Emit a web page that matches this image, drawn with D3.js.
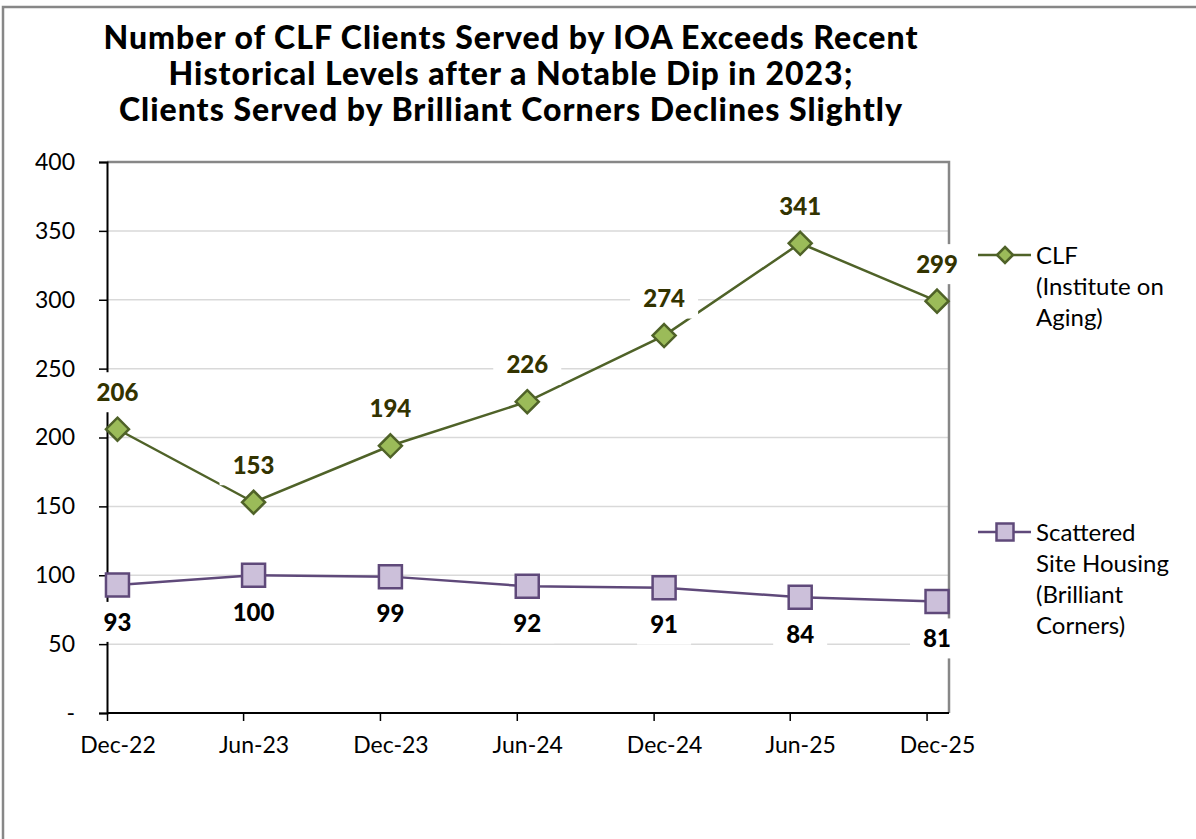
<!DOCTYPE html>
<html>
<head>
<meta charset="utf-8">
<script src="https://cdn.jsdelivr.net/npm/d3@7"></script>
<style>
  body { margin: 0; background: #fff; }
  svg { display: block; font-family: Lato, "Noto Sans", sans-serif; }
</style>
</head>
<body>
<svg id="chart" width="1196" height="839"></svg>
<script>
// Chart data
const dates = ["2022-12-15", "2023-06-15", "2023-12-15", "2024-06-15", "2024-12-15", "2025-06-15", "2025-12-15"];
const tickLabels = ["Dec-22", "Jun-23", "Dec-23", "Jun-24", "Dec-24", "Jun-25", "Dec-25"];
const clfValues = [206, 153, 194, 226, 274, 341, 299];
const sshValues = [93, 100, 99, 92, 91, 84, 81];
const yTicks = [0, 50, 100, 150, 200, 250, 300, 350, 400];
const titleLines = [
  "Number of CLF Clients Served by IOA Exceeds Recent",
  "Historical Levels after a Notable Dip in 2023;",
  "Clients Served by Brilliant Corners Declines Slightly"
];
const clfLegend = ["CLF", "(Institute on", "Aging)"];
const sshLegend = ["Scattered", "Site Housing", "(Brilliant", "Corners)"];

const parseDate = d3.timeParse("%Y-%m-%d");
const dateValues = dates.map(parseDate);

const svg = d3.select("#chart");

// Plot area
const plot = {left: 107, right: 949, top: 162, bottom: 713};

// Outer border
svg.append("rect")
  .attr("x", 3).attr("y", 7)
  .attr("width", 1210).attr("height", 850)
  .attr("fill", "none")
  .attr("stroke", "#878787")
  .attr("stroke-width", 2.5);

// Title
svg.append("g")
  .selectAll("text")
  .data(titleLines)
  .enter().append("text")
  .attr("x", 511)
  .attr("y", (d, i) => 49 + i * 36)
  .attr("text-anchor", "middle")
  .attr("font-size", 32)
  .attr("font-weight", 900)
  .attr("letter-spacing", 1)
  .attr("fill", "#000")
  .text(d => d);

// Scales
const x = d3.scaleTime()
  .domain([parseDate("2022-12-01"), parseDate("2025-12-31")])
  .range([plot.left, plot.right]);

const y = d3.scaleLinear()
  .domain([0, 400])
  .range([plot.bottom, plot.top]);

// Gridlines
svg.append("g")
  .selectAll("line")
  .data(yTicks.filter(v => v > 0 && v < 400))
  .enter().append("line")
  .attr("x1", plot.left).attr("x2", plot.right)
  .attr("y1", d => y(d)).attr("y2", d => y(d))
  .attr("stroke", "#d9d9d9")
  .attr("stroke-width", 1.5);

// Plot border (top and right)
svg.append("path")
  .attr("d", `M${plot.left},${y(400)}H${plot.right}V${plot.bottom}`)
  .attr("fill", "none")
  .attr("stroke", "#878787")
  .attr("stroke-width", 2.5);

// Y axis
const yAxis = d3.axisLeft(y)
  .tickValues(yTicks)
  .tickSize(8)
  .tickPadding(24)
  .tickFormat(d => d === 0 ? "-" : d);

svg.append("g")
  .attr("transform", `translate(${plot.left},0)`)
  .call(yAxis)
  .call(g => g.select(".domain").attr("stroke", "#000").attr("stroke-width", 2))
  .call(g => g.selectAll(".tick line").attr("stroke", "#000").attr("stroke-width", 1.5))
  .call(g => g.selectAll("text").attr("font-size", 23).attr("font-family", "Lato").attr("fill", "#000"));

// X axis: tick marks at month starts, labels at the data dates
const xTicks = d3.axisBottom(x)
  .tickValues(dateValues.map(d => d3.timeMonth.floor(d)))
  .tickSize(8)
  .tickFormat("");

svg.append("g")
  .attr("transform", `translate(0,${plot.bottom})`)
  .call(xTicks)
  .call(g => g.select(".domain").attr("stroke", "#000").attr("stroke-width", 2).attr("d", `M${plot.left},0H${plot.right}`))
  .call(g => g.selectAll(".tick line").attr("stroke", "#000").attr("stroke-width", 1.5));

const xLabels = d3.axisBottom(x)
  .tickValues(dateValues)
  .tickSize(0)
  .tickPadding(24)
  .tickFormat((d, i) => tickLabels[i]);

svg.append("g")
  .attr("transform", `translate(0,${plot.bottom})`)
  .call(xLabels)
  .call(g => g.select(".domain").remove())
  .call(g => g.selectAll("text").attr("font-size", 23).attr("font-family", "Lato").attr("fill", "#000"));

// Series
const series = [
  {values: clfValues, line: "#4f6228", fill: "#9bbb59", label: "#333300", shape: "diamond", above: true},
  {values: sshValues, line: "#5f497a", fill: "#ccc0da", label: "#000", shape: "square", above: false}
];

const line = d3.line()
  .x((d, i) => x(dateValues[i]))
  .y(d => y(d));

const marker = (shape, r) => shape === "diamond"
  ? `M0,${-r}L${r},0L0,${r}L${-r},0Z`
  : `M${-r},${-r}H${r}V${r}H${-r}Z`;

series.forEach(s => {
  svg.append("path")
    .datum(s.values)
    .attr("d", line)
    .attr("fill", "none")
    .attr("stroke", s.line)
    .attr("stroke-width", 2.5);

  svg.append("g")
    .selectAll("path")
    .data(s.values)
    .enter().append("path")
    .attr("transform", (d, i) => `translate(${x(dateValues[i])},${y(d)})`)
    .attr("d", marker(s.shape, 11.5))
    .attr("fill", s.fill)
    .attr("stroke", s.line)
    .attr("stroke-width", 2.5);
});

// Data labels with white boxes
series.forEach(s => {
  const g = svg.append("g")
    .selectAll("g")
    .data(s.values)
    .enter().append("g")
    .attr("transform", (d, i) => `translate(${x(dateValues[i])},${y(d) + (s.above ? -37 : 37)})`);

  g.append("rect")
    .attr("x", d => String(d).length > 2 ? -34 : -27)
    .attr("width", d => String(d).length > 2 ? 68 : 54)
    .attr("y", -20)
    .attr("height", 40)
    .attr("fill", "#fff");

  g.append("text")
    .attr("text-anchor", "middle")
    .attr("dy", "0.36em")
    .attr("font-size", 24)
    .attr("font-weight", 900)
    .attr("fill", s.label)
    .text(d => d);
});

// Legend
const legend = [
  {lines: clfLegend, y: 255, s: series[0]},
  {lines: sshLegend, y: 532, s: series[1]}
];

legend.forEach(l => {
  const g = svg.append("g").attr("transform", `translate(0,${l.y})`);
  g.append("line")
    .attr("x1", 978).attr("x2", 1031)
    .attr("stroke", l.s.line)
    .attr("stroke-width", 2.5);
  g.append("path")
    .attr("transform", "translate(1005,0)")
    .attr("d", marker(l.s.shape, l.s.shape === "diamond" ? 8 : 8.5))
    .attr("fill", l.s.fill)
    .attr("stroke", l.s.line)
    .attr("stroke-width", 2.5);
  g.selectAll("text")
    .data(l.lines)
    .enter().append("text")
    .attr("x", 1036)
    .attr("y", (d, i) => i * 31)
    .attr("dy", "0.36em")
    .attr("font-size", 24)
    .attr("fill", "#000")
    .text(d => d);
});
</script>
</body>
</html>
